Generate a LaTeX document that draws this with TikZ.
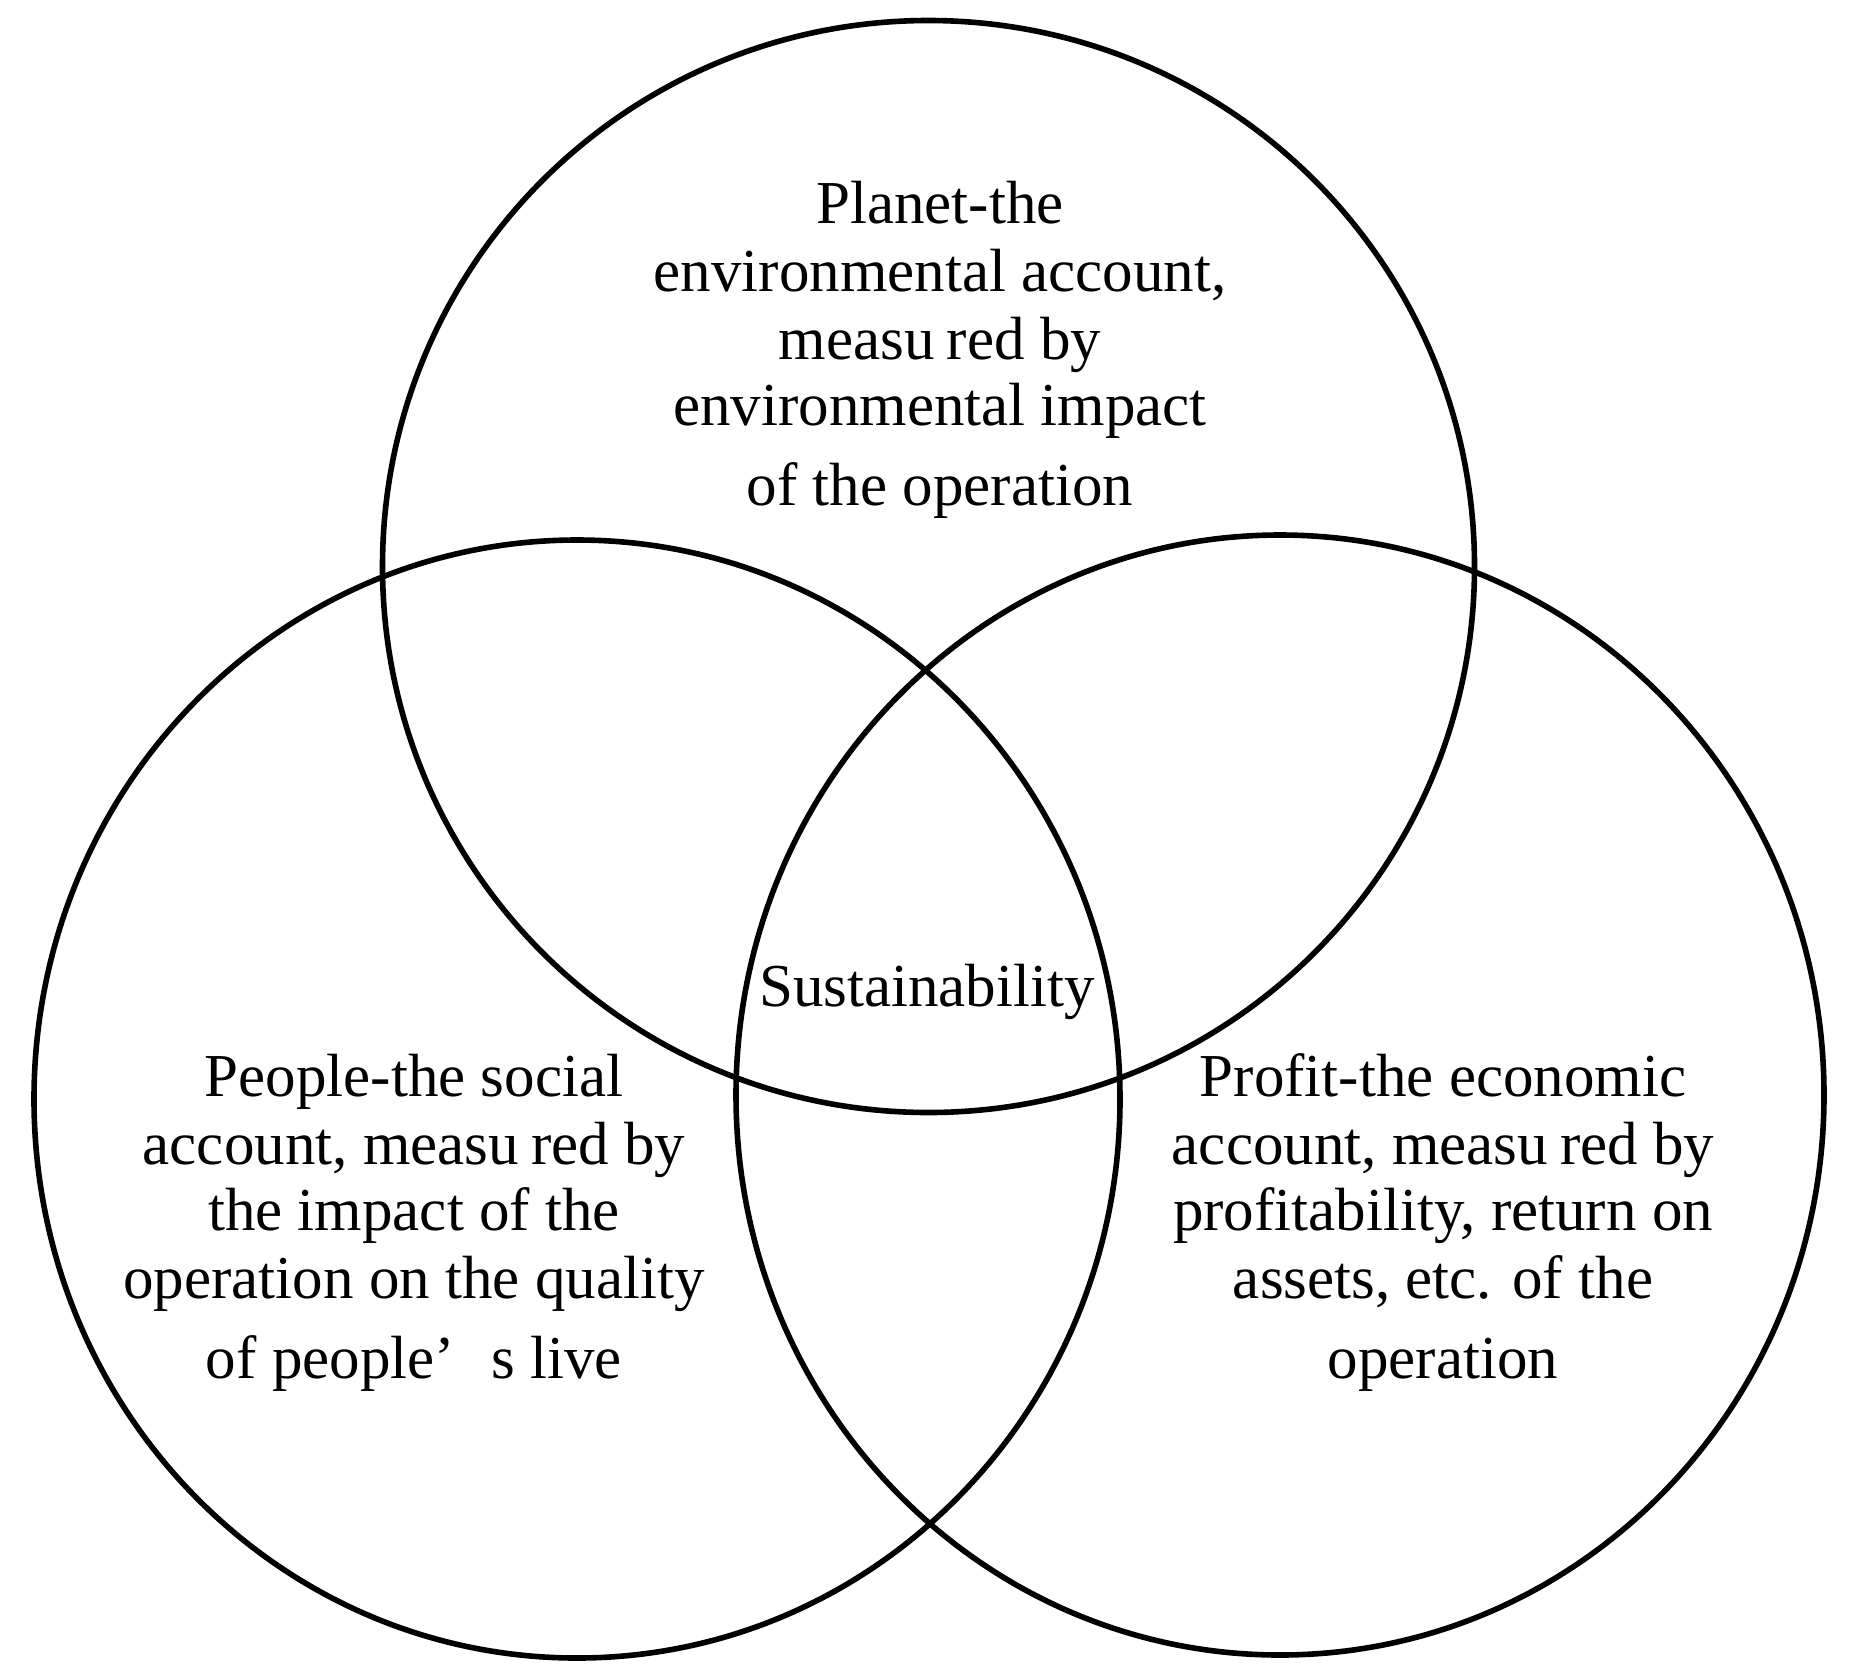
\documentclass[tikz,border=0pt]{standalone}
\usepackage{fontspec}
\setmainfont{Liberation Serif}
\tikzset{
  ring/.style={draw=black, line width=2.8pt},
  txt/.style={anchor=base, inner sep=0pt, font=\fontsize{30.5}{36}\selectfont},
}
\begin{document}
\begin{tikzpicture}[x=0.5pt, y=-0.5pt]
\useasboundingbox (0,0) rectangle (1862,1676);
\draw[ring] (928.5,566.5) circle [radius=546];
\draw[ring] (577,1099) ellipse [x radius=543, y radius=559];
\draw[ring] (1280,1095) ellipse [x radius=544, y radius=560];
% top text
\node[txt] (t1) at (940,223) {Planet-the};
\node[txt] (t2) at (940,291) {environmental account,};
\node[txt] (t3) at (940,359) {measu\hspace{0.2em}red by};
\node[txt] (t4) at (940,425) {environmental impact};
\node[txt] (t5) at (940,505) {of the operation};
% left text
\node[txt] (l1) at (414,1096) {People-the social};
\node[txt] (l2) at (414,1164) {account, measu\hspace{0.2em}red by};
\node[txt] (l3) at (414,1230) {the impact of the};
\node[txt] (l4) at (414,1298) {operation on the quality};
\node[txt] (l5) at (414,1378) {of people’\hspace{0.6em}s live};
% right text
\node[txt] (r1) at (1443,1096) {Profit-the economic};
\node[txt] (r2) at (1443,1164) {account, measu\hspace{0.2em}red by};
\node[txt] (r3) at (1443,1230) {profitability, return on};
\node[txt] (r4) at (1443,1298) {assets, etc. of the};
\node[txt] (r5) at (1443,1378) {operation};
% centre
\node[txt] (c) at (927,1006) {Sustainability};
\end{tikzpicture}
\end{document}
